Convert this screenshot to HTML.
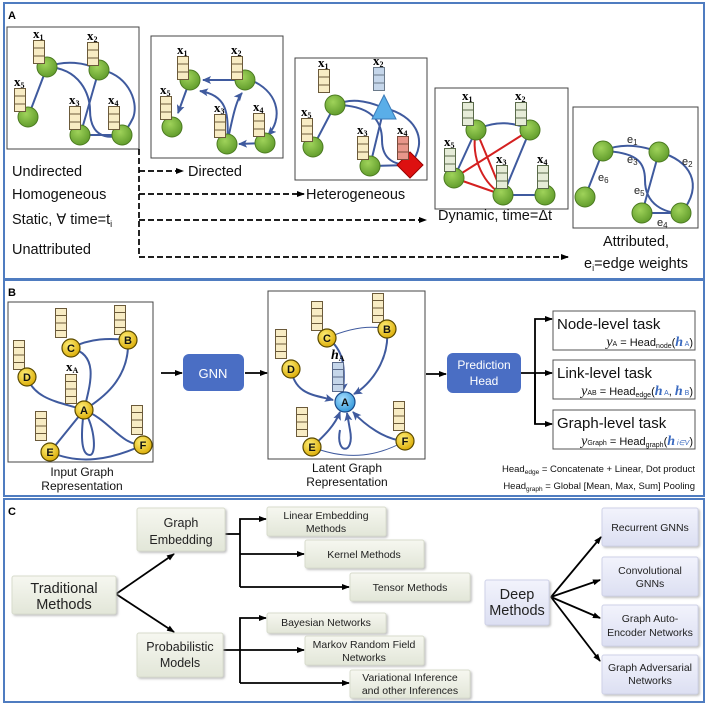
<!DOCTYPE html>
<html><head><meta charset="utf-8"><style>
html,body{margin:0;padding:0;background:#fff;}
svg{display:block;font-family:"Liberation Sans",sans-serif;}
.x{font-family:"Liberation Serif",serif;font-weight:bold;font-size:13px;}
</style></head><body>
<svg width="708" height="707" viewBox="0 0 708 707" xmlns="http://www.w3.org/2000/svg">
<defs>
<radialGradient id="gg" cx="0.4" cy="0.35" r="0.7"><stop offset="0" stop-color="#9fd35a"/><stop offset="1" stop-color="#5f9a2a"/></radialGradient>
<radialGradient id="yg" cx="0.4" cy="0.35" r="0.7"><stop offset="0" stop-color="#fff07a"/><stop offset="1" stop-color="#d9a800"/></radialGradient>
<radialGradient id="bg" cx="0.4" cy="0.35" r="0.7"><stop offset="0" stop-color="#a8e0ff"/><stop offset="1" stop-color="#2f95d8"/></radialGradient>
<linearGradient id="tg" x1="0" y1="0" x2="0" y2="1"><stop offset="0" stop-color="#f6f7f0"/><stop offset="1" stop-color="#e2e6d8"/></linearGradient>
<linearGradient id="dg" x1="0" y1="0" x2="0" y2="1"><stop offset="0" stop-color="#f2f3fc"/><stop offset="1" stop-color="#dcdff2"/></linearGradient>
<marker id="ah" markerWidth="8" markerHeight="8" refX="7" refY="4" orient="auto" markerUnits="userSpaceOnUse"><path d="M0,1 L8,4 L0,7 Z" fill="#000"/></marker>
<marker id="bh" markerWidth="9" markerHeight="9" refX="8" refY="4.5" orient="auto" markerUnits="userSpaceOnUse"><path d="M0,0.5 L9,4.5 L0,8.5 L2,4.5 Z" fill="#3f5a9e"/></marker>
<symbol id="v3" viewBox="0 0 12 24" width="12" height="24"><rect x="0.5" y="0.5" width="11" height="23" fill="#f8ecc4" stroke="#6b5a3a"/><line x1="0" y1="8" x2="12" y2="8" stroke="#6b5a3a"/><line x1="0" y1="16" x2="12" y2="16" stroke="#6b5a3a"/></symbol>
<symbol id="v3b" viewBox="0 0 12 24" width="12" height="24"><rect x="0.5" y="0.5" width="11" height="23" fill="#c5d6ea" stroke="#6b7a8a"/><line x1="0" y1="8" x2="12" y2="8" stroke="#6b7a8a"/><line x1="0" y1="16" x2="12" y2="16" stroke="#6b7a8a"/></symbol>
<symbol id="v3r" viewBox="0 0 12 24" width="12" height="24"><rect x="0.5" y="0.5" width="11" height="23" fill="#e8968a" stroke="#7a4a3a"/><line x1="0" y1="8" x2="12" y2="8" stroke="#7a4a3a"/><line x1="0" y1="16" x2="12" y2="16" stroke="#7a4a3a"/></symbol>
<symbol id="v3g" viewBox="0 0 12 24" width="12" height="24"><rect x="0.5" y="0.5" width="11" height="23" fill="#e6ecd8" stroke="#5a6a4a"/><line x1="0" y1="8" x2="12" y2="8" stroke="#5a6a4a"/><line x1="0" y1="16" x2="12" y2="16" stroke="#5a6a4a"/></symbol>
<symbol id="v4" viewBox="0 0 12 30" width="12" height="30"><rect x="0.5" y="0.5" width="11" height="29" fill="#f8ecc4" stroke="#6b5a3a"/><line x1="0" y1="7.5" x2="12" y2="7.5" stroke="#6b5a3a"/><line x1="0" y1="15" x2="12" y2="15" stroke="#6b5a3a"/><line x1="0" y1="22.5" x2="12" y2="22.5" stroke="#6b5a3a"/></symbol>
<symbol id="v4b" viewBox="0 0 12 30" width="12" height="30"><rect x="0.5" y="0.5" width="11" height="29" fill="#c5d6ea" stroke="#5a6a8a"/><line x1="0" y1="7.5" x2="12" y2="7.5" stroke="#5a6a8a"/><line x1="0" y1="15" x2="12" y2="15" stroke="#5a6a8a"/><line x1="0" y1="22.5" x2="12" y2="22.5" stroke="#5a6a8a"/></symbol>
<filter id="sh" x="-10%" y="-10%" width="125%" height="130%"><feDropShadow dx="1.5" dy="1.5" stdDeviation="1" flood-color="#999" flood-opacity="0.6"/></filter>
</defs>

<rect x="4" y="3" width="700" height="276" fill="none" stroke="#4f7cc0" stroke-width="2"/>
<rect x="4" y="280" width="700" height="216" fill="none" stroke="#4f7cc0" stroke-width="2"/>
<rect x="4" y="499" width="700" height="203" fill="none" stroke="#4f7cc0" stroke-width="2"/>
<text x="8" y="19" font-size="11" font-weight="bold">A</text>
<text x="8" y="296" font-size="11" font-weight="bold">B</text>
<text x="8" y="515" font-size="11" font-weight="bold">C</text>

<g fill="none" stroke="#3f5a9e" stroke-width="2">
<rect x="7" y="27" width="132" height="122" stroke="#444" stroke-width="1" fill="#fff"/>
<path d="M28,117 L47,67"/><path d="M47,67 C65,60 85,62 99,70"/><path d="M99,70 C90,100 85,120 80,135"/>
<path d="M47,67 C80,68 90,95 90,110 C90,135 105,140 122,135"/>
<path d="M99,70 C125,72 140,100 133,118 C128,128 125,132 122,135"/><path d="M80,135 L122,135"/>
<rect x="151" y="36" width="132" height="122" stroke="#444" stroke-width="1" fill="#fff"/>
<path d="M190,80 L178,113" marker-end="url(#bh)"/>
<path d="M245,80 L203,80" marker-end="url(#bh)"/>
<path d="M227,144 C230,110 225,95 200,91" marker-end="url(#bh)"/>
<path d="M227,144 C232,120 236,100 242,93" marker-end="url(#bh)"/>
<path d="M255,82 C280,95 282,120 268,135" marker-end="url(#bh)"/>
<path d="M265,143 L239,144" marker-end="url(#bh)"/>
<rect x="295" y="58" width="132" height="122" stroke="#444" stroke-width="1" fill="#fff"/>
<path d="M313,147 L335,105"/><path d="M335,105 C350,98 365,100 384,108"/>
<path d="M335,105 C370,105 382,120 382,140 C382,160 395,165 410,165"/>
<path d="M384,108 L370,166"/><path d="M370,166 L410,165"/>
<path d="M384,108 C415,115 430,140 410,165"/>
<rect x="435" y="88" width="133" height="121" stroke="#444" stroke-width="1" fill="#fff"/>
<path d="M454,178 L476,130"/><path d="M476,130 C495,120 515,122 530,130"/><path d="M530,130 L503,195"/><path d="M503,195 L545,195"/>
<path d="M476,130 L503,195 M454,178 L503,195 M454,178 L530,130" stroke="#d42020"/>
<path d="M476,130 C470,160 485,185 503,195" stroke="#d42020"/>
<rect x="573" y="107" width="125" height="121" stroke="#444" stroke-width="1" fill="#fff"/>
<path d="M585,197 L603,151"/><path d="M603,151 C620,143 640,145 659,152"/>
<path d="M603,151 C640,152 645,165 645,180 C645,205 665,213 681,213"/>
<path d="M659,152 L642,213"/><path d="M642,213 L681,213"/>
<path d="M659,152 C690,160 705,185 681,213"/>
</g>
<g fill="url(#gg)" stroke="#4b7a20" stroke-width="1">
<circle cx="28" cy="117" r="10"/><circle cx="47" cy="67" r="10"/><circle cx="99" cy="70" r="10"/><circle cx="80" cy="135" r="10"/><circle cx="122" cy="135" r="10"/>
<circle cx="190" cy="80" r="10"/><circle cx="245" cy="80" r="10"/><circle cx="172" cy="127" r="10"/><circle cx="227" cy="144" r="10"/><circle cx="265" cy="143" r="10"/>
<circle cx="313" cy="147" r="10"/><circle cx="335" cy="105" r="10"/><circle cx="370" cy="166" r="10"/>
<circle cx="476" cy="130" r="10"/><circle cx="530" cy="130" r="10"/><circle cx="454" cy="178" r="10"/><circle cx="503" cy="195" r="10"/><circle cx="545" cy="195" r="10"/>
<circle cx="603" cy="151" r="10"/><circle cx="659" cy="152" r="10"/><circle cx="585" cy="197" r="10"/><circle cx="642" cy="213" r="10"/><circle cx="681" cy="213" r="10"/>
</g>
<polygon points="384,95 396,119 372,119" fill="#5aaee8" stroke="#3a7ab8"/>
<polygon points="410,152 423,165 410,178 397,165" fill="#dd1010" stroke="#900"/>
<use href="#v3" x="33" y="40"/><use href="#v3" x="87" y="42"/><use href="#v3" x="14" y="88"/><use href="#v3" x="69" y="106"/><use href="#v3" x="108" y="106"/>
<use href="#v3" x="177" y="56"/><use href="#v3" x="231" y="56"/><use href="#v3" x="160" y="96"/><use href="#v3" x="214" y="114"/><use href="#v3" x="253" y="113"/>
<use href="#v3" x="318" y="69"/><use href="#v3b" x="373" y="67"/><use href="#v3" x="301" y="118"/><use href="#v3" x="357" y="136"/><use href="#v3r" x="397" y="136"/>
<use href="#v3g" x="462" y="102"/><use href="#v3g" x="515" y="102"/><use href="#v3g" x="444" y="148"/><use href="#v3g" x="496" y="165"/><use href="#v3g" x="537" y="165"/>
<g class="x">
<text x="33" y="38">x<tspan font-size="8" dy="2">1</tspan></text><text x="87" y="40">x<tspan font-size="8" dy="2">2</tspan></text><text x="14" y="86">x<tspan font-size="8" dy="2">5</tspan></text><text x="69" y="104">x<tspan font-size="8" dy="2">3</tspan></text><text x="108" y="104">x<tspan font-size="8" dy="2">4</tspan></text>
<text x="177" y="54">x<tspan font-size="8" dy="2">1</tspan></text><text x="231" y="54">x<tspan font-size="8" dy="2">2</tspan></text><text x="160" y="94">x<tspan font-size="8" dy="2">5</tspan></text><text x="214" y="112">x<tspan font-size="8" dy="2">3</tspan></text><text x="253" y="111">x<tspan font-size="8" dy="2">4</tspan></text>
<text x="318" y="67">x<tspan font-size="8" dy="2">1</tspan></text><text x="373" y="65">x<tspan font-size="8" dy="2">2</tspan></text><text x="301" y="116">x<tspan font-size="8" dy="2">5</tspan></text><text x="357" y="134">x<tspan font-size="8" dy="2">3</tspan></text><text x="397" y="134">x<tspan font-size="8" dy="2">4</tspan></text>
<text x="462" y="100">x<tspan font-size="8" dy="2">1</tspan></text><text x="515" y="100">x<tspan font-size="8" dy="2">2</tspan></text><text x="444" y="146">x<tspan font-size="8" dy="2">5</tspan></text><text x="496" y="163">x<tspan font-size="8" dy="2">3</tspan></text><text x="537" y="163">x<tspan font-size="8" dy="2">4</tspan></text>
</g>
<g font-size="11" fill="#222">
<text x="627" y="143">e<tspan font-size="8" dy="2">1</tspan></text>
<text x="682" y="165">e<tspan font-size="8" dy="2">2</tspan></text>
<text x="627" y="163">e<tspan font-size="8" dy="2">3</tspan></text>
<text x="657" y="226">e<tspan font-size="8" dy="2">4</tspan></text>
<text x="634" y="194">e<tspan font-size="8" dy="2">5</tspan></text>
<text x="598" y="181">e<tspan font-size="8" dy="2">6</tspan></text>
</g>
<g font-size="14.5" fill="#111">
<text x="12" y="176">Undirected</text>
<text x="12" y="199">Homogeneous</text>
<text x="12" y="224">Static, ∀ time=t<tspan font-size="9" dy="3">i</tspan></text>
<text x="12" y="254">Unattributed</text>
<text x="188" y="176">Directed</text>
<text x="306" y="199">Heterogeneous</text>
<text x="438" y="220">Dynamic, time=Δt</text>
<text x="636" y="246" text-anchor="middle">Attributed,</text>
<text x="636" y="268" text-anchor="middle">e<tspan font-size="9" dy="3">i</tspan><tspan dy="-3">=edge weights</tspan></text>
</g>
<g stroke="#000" stroke-width="1.7" stroke-dasharray="6,3" fill="none">
<path d="M139,149 L139,257"/>
<path d="M139,171 L183,171" marker-end="url(#ah)"/>
<path d="M139,194 L304,194" marker-end="url(#ah)"/>
<path d="M139,220 L426,220" marker-end="url(#ah)"/>
<path d="M139,257 L568,257" marker-end="url(#ah)"/>
</g>

<rect x="8" y="302" width="145" height="160" fill="#fff" stroke="#444"/>
<rect x="268" y="291" width="157" height="168" fill="#fff" stroke="#444"/>
<g fill="none" stroke="#3f5a9e" stroke-width="2">
<path d="M71,348 C90,338 110,338 128,340"/>
<path d="M71,348 C100,355 90,385 84,410"/>
<path d="M128,340 C130,380 100,400 84,410"/>
<path d="M27,377 C35,400 60,402 84,410"/>
<path d="M84,410 L50,452"/>
<path d="M84,410 C110,420 120,445 143,445"/>
<path d="M84,410 C80,440 82,455 90,455 C96,455 96,430 84,410"/>
<path d="M50,452 C80,465 110,460 143,445"/>
<path d="M327,338 C345,350 345,370 343,391" marker-end="url(#bh)"/>
<path d="M387,329 C390,360 370,385 354,394" marker-end="url(#bh)"/>
<path d="M291,369 C295,395 315,395 333,400" marker-end="url(#bh)"/>
<path d="M312,447 C325,435 335,425 340,412" marker-end="url(#bh)"/>
<path d="M405,441 C385,440 365,425 353,412" marker-end="url(#bh)"/>
<path d="M340,430 C335,455 355,455 350,430 L347,413" marker-end="url(#bh)"/>
<path d="M327,338 C350,328 370,325 387,329" stroke-width="1"/>
<path d="M312,447 C350,462 380,455 405,441" stroke-width="1"/>
</g>
<use href="#v4" x="55" y="308"/><use href="#v4" x="114" y="305"/><use href="#v4" x="13" y="340"/><use href="#v4" x="65" y="374"/><use href="#v4" x="35" y="411"/><use href="#v4" x="131" y="405"/>
<use href="#v4" x="311" y="301"/><use href="#v4" x="372" y="293"/><use href="#v4" x="275" y="329"/><use href="#v4b" x="332" y="362"/><use href="#v4" x="296" y="407"/><use href="#v4" x="393" y="401"/>
<text class="x" x="66" y="371">x<tspan font-size="8" dy="2">A</tspan></text>
<text x="331" y="359" font-family="Liberation Serif,serif" font-style="italic" font-weight="bold" font-size="14">h<tspan font-size="8" dy="2" font-style="normal">A</tspan></text>
<g fill="url(#yg)" stroke="#5a4a00" stroke-width="1.2">
<circle cx="71" cy="348" r="9"/><circle cx="128" cy="340" r="9"/><circle cx="27" cy="377" r="9"/><circle cx="84" cy="410" r="9"/><circle cx="50" cy="452" r="9"/><circle cx="143" cy="445" r="9"/>
<circle cx="327" cy="338" r="9"/><circle cx="387" cy="329" r="9"/><circle cx="291" cy="369" r="9"/><circle cx="312" cy="447" r="9"/><circle cx="405" cy="441" r="9"/>
</g>
<circle cx="345" cy="402" r="10" fill="url(#bg)" stroke="#1a4a8a" stroke-width="1.2"/>
<g font-size="11" font-weight="bold" text-anchor="middle" fill="#111">
<text x="71" y="352">C</text><text x="128" y="344">B</text><text x="27" y="381">D</text><text x="84" y="414">A</text><text x="50" y="456">E</text><text x="143" y="449">F</text>
<text x="327" y="342">C</text><text x="387" y="333">B</text><text x="291" y="373">D</text><text x="345" y="406">A</text><text x="312" y="451">E</text><text x="405" y="445">F</text>
</g>
<g font-size="12" text-anchor="middle" fill="#111">
<text x="82" y="476">Input Graph</text><text x="82" y="490">Representation</text>
<text x="347" y="472">Latent Graph</text><text x="347" y="486">Representation</text>
</g>
<g stroke="#000" stroke-width="1.8" fill="none">
<path d="M161,373 L182,373" marker-end="url(#ah)"/>
<path d="M245,373 L267,373" marker-end="url(#ah)"/>
<path d="M426,374 L446,374" marker-end="url(#ah)"/>
<path d="M521,373 L552,373" marker-end="url(#ah)"/>
<path d="M535,424 L535,319 L552,319" marker-end="url(#ah)"/>
<path d="M535,373 L535,424 L552,424" marker-end="url(#ah)"/>
</g>
<rect x="183" y="354" width="61" height="37" rx="6" fill="#4a6ec4"/>
<text x="213" y="378" font-size="13" fill="#fff" text-anchor="middle">GNN</text>
<rect x="447" y="353" width="74" height="40" rx="6" fill="#4a6ec4"/>
<text x="484" y="369" font-size="12" fill="#fff" text-anchor="middle">Prediction</text>
<text x="484" y="385" font-size="12" fill="#fff" text-anchor="middle">Head</text>
<g fill="#fff" stroke="#555">
<rect x="553" y="311" width="142" height="39"/>
<rect x="553" y="360" width="142" height="39"/>
<rect x="553" y="410" width="142" height="39"/>
</g>
<g font-size="15" fill="#111">
<text x="557" y="329">Node-level task</text>
<text x="557" y="378">Link-level task</text>
<text x="557" y="428">Graph-level task</text>
</g>
<g font-size="11" fill="#111" text-anchor="end">
<text x="693" y="346"><tspan font-family="Liberation Serif,serif" font-style="italic" font-size="14">y</tspan><tspan font-size="7">A</tspan> = Head<tspan font-size="7" dy="2">node</tspan><tspan dy="-2">(</tspan><tspan font-family="Liberation Serif,serif" font-style="italic" font-weight="bold" font-size="14" fill="#3a6ac0">h</tspan><tspan font-size="7" fill="#3a6ac0"> A</tspan>)</text>
<text x="693" y="395"><tspan font-family="Liberation Serif,serif" font-style="italic" font-size="14">y</tspan><tspan font-size="7">AB</tspan> = Head<tspan font-size="7" dy="2">edge</tspan><tspan dy="-2">(</tspan><tspan font-family="Liberation Serif,serif" font-style="italic" font-weight="bold" font-size="14" fill="#3a6ac0">h</tspan><tspan font-size="7" fill="#3a6ac0"> A</tspan>, <tspan font-family="Liberation Serif,serif" font-style="italic" font-weight="bold" font-size="14" fill="#3a6ac0">h</tspan><tspan font-size="7" fill="#3a6ac0"> B</tspan>)</text>
<text x="693" y="445"><tspan font-family="Liberation Serif,serif" font-style="italic" font-size="14">y</tspan><tspan font-size="7">Graph</tspan> = Head<tspan font-size="7" dy="2">graph</tspan><tspan dy="-2">(</tspan><tspan font-family="Liberation Serif,serif" font-style="italic" font-weight="bold" font-size="14" fill="#3a6ac0">h</tspan><tspan font-size="7" fill="#3a6ac0" font-style="italic"> i∈V</tspan>)</text>
<text x="695" y="472" font-size="9.5">Head<tspan font-size="6.5" dy="2">edge</tspan><tspan dy="-2"> = Concatenate + Linear, Dot product</tspan></text>
<text x="695" y="489" font-size="9.5">Head<tspan font-size="6.5" dy="2">graph</tspan><tspan dy="-2"> = Global [Mean, Max, Sum] Pooling</tspan></text>
</g>

<g stroke="#000" stroke-width="1.8" fill="none">
<path d="M116,594 L174,554" marker-end="url(#ah)"/>
<path d="M116,594 L174,632" marker-end="url(#ah)"/>
<path d="M225,534 L240,534"/>
<path d="M240,587 L240,519 L266,519" marker-end="url(#ah)"/>
<path d="M240,554 L304,554" marker-end="url(#ah)"/>
<path d="M240,587 L349,587" marker-end="url(#ah)"/>
<path d="M223,650 L240,650"/>
<path d="M240,683 L240,618 L266,618" marker-end="url(#ah)"/>
<path d="M240,650 L304,650" marker-end="url(#ah)"/>
<path d="M240,683 L349,683" marker-end="url(#ah)"/>
<path d="M551,597 L601,537" marker-end="url(#ah)"/>
<path d="M551,597 L600,580" marker-end="url(#ah)"/>
<path d="M551,597 L600,618" marker-end="url(#ah)"/>
<path d="M551,597 L600,661" marker-end="url(#ah)"/>
</g>
<g fill="url(#tg)" stroke="#d8dccd" filter="url(#sh)">
<rect x="12" y="576" width="104" height="38" rx="2"/>
<rect x="137" y="508" width="88" height="43" rx="2"/>
<rect x="137" y="633" width="86" height="44" rx="2"/>
<rect x="267" y="507" width="119" height="29" rx="2"/>
<rect x="305" y="540" width="119" height="28" rx="2"/>
<rect x="350" y="573" width="120" height="28" rx="2"/>
<rect x="267" y="613" width="119" height="20" rx="2"/>
<rect x="305" y="636" width="119" height="29" rx="2"/>
<rect x="350" y="670" width="120" height="28" rx="2"/>
</g>
<g fill="url(#dg)" stroke="#cfd2e8" filter="url(#sh)">
<rect x="485" y="580" width="64" height="45" rx="2"/>
<rect x="602" y="508" width="96" height="38" rx="2"/>
<rect x="602" y="557" width="96" height="39" rx="2"/>
<rect x="602" y="605" width="96" height="41" rx="2"/>
<rect x="602" y="655" width="96" height="39" rx="2"/>
</g>
<g text-anchor="middle" fill="#222">
<g font-size="14.5"><text x="64" y="593">Traditional</text><text x="64" y="609">Methods</text>
<text x="517" y="599">Deep</text><text x="517" y="615">Methods</text></g>
<g font-size="12.5"><text x="181" y="527">Graph</text><text x="181" y="544">Embedding</text>
<text x="180" y="651">Probabilistic</text><text x="180" y="667">Models</text></g>
<g font-size="10.5">
<text x="326" y="519">Linear Embedding</text><text x="326" y="532">Methods</text>
<text x="364" y="558">Kernel Methods</text>
<text x="410" y="591">Tensor Methods</text>
<text x="326" y="626">Bayesian Networks</text>
<text x="364" y="648">Markov Random Field</text><text x="364" y="661">Networks</text>
<text x="410" y="681">Variational Inference</text><text x="410" y="694">and other Inferences</text>
<text x="650" y="531">Recurrent GNNs</text>
<text x="650" y="574">Convolutional</text><text x="650" y="587">GNNs</text>
<text x="650" y="622">Graph Auto-</text><text x="650" y="636">Encoder Networks</text>
<text x="650" y="671">Graph Adversarial</text><text x="650" y="684">Networks</text>
</g>
</g>
</svg>
</body></html>
